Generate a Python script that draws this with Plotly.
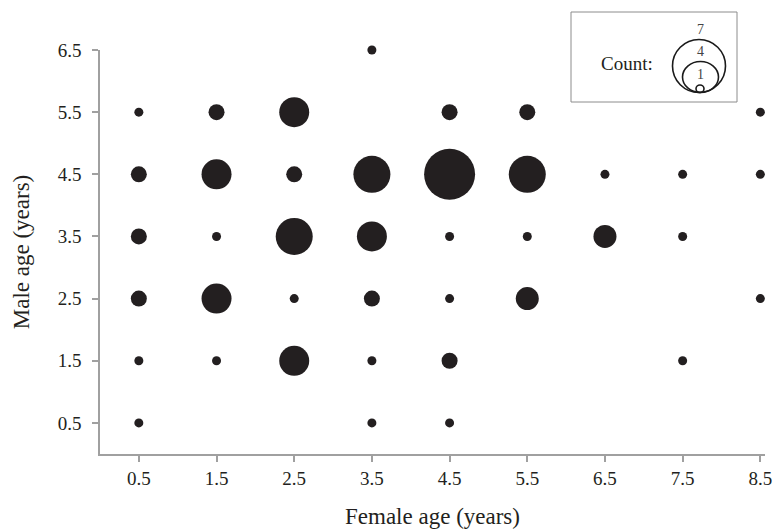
import plotly.graph_objects as go

# Data: female age (x), male age (y), count of pairs
female_age = [3.5,
              0.5, 1.5, 2.5, 4.5, 5.5, 8.5,
              0.5, 1.5, 2.5, 3.5, 4.5, 5.5, 6.5, 7.5, 8.5,
              0.5, 1.5, 2.5, 3.5, 4.5, 5.5, 6.5, 7.5,
              0.5, 1.5, 2.5, 3.5, 4.5, 5.5, 8.5,
              0.5, 1.5, 2.5, 3.5, 4.5, 7.5,
              0.5, 3.5, 4.5]
male_age = [6.5,
            5.5, 5.5, 5.5, 5.5, 5.5, 5.5,
            4.5, 4.5, 4.5, 4.5, 4.5, 4.5, 4.5, 4.5, 4.5,
            3.5, 3.5, 3.5, 3.5, 3.5, 3.5, 3.5, 3.5,
            2.5, 2.5, 2.5, 2.5, 2.5, 2.5, 2.5,
            1.5, 1.5, 1.5, 1.5, 1.5, 1.5,
            0.5, 0.5, 0.5]
count = [1,
         1, 2, 4, 2, 2, 1,
         2, 4, 2, 5, 7, 5, 1, 1, 1,
         2, 1, 5, 4, 1, 1, 3, 1,
         2, 4, 1, 2, 1, 3, 1,
         1, 1, 4, 1, 2, 1,
         1, 1, 1]

tick_vals = [0.5, 1.5, 2.5, 3.5, 4.5, 5.5, 6.5, 7.5, 8.5]
y_tick_vals = [0.5, 1.5, 2.5, 3.5, 4.5, 5.5, 6.5]
legend_counts = [1, 4, 7]

FONT = "Liberation Serif"
DOT = "#231f20"
AXIS = "#a0a0a0"
TXT = "#231f20"


def diam(n):
    return 7 * n + 2


fig = go.Figure()
fig.add_trace(go.Scatter(
    x=female_age, y=male_age, mode="markers",
    marker=dict(size=[diam(c) for c in count], color=DOT, opacity=1, line=dict(width=0)),
    cliponaxis=False, hoverinfo="x+y+text", text=[str(c) for c in count],
    showlegend=False,
))

L, R, T, B = 100, 15, 50, 77
W, H = 780, 531
pw, ph = W - L - R, H - T - B


def px(x):
    return (x - L) / pw


def py(y):
    return (H - B - y) / ph


shapes = [dict(type="rect", xref="paper", yref="paper",
               x0=px(571), x1=px(737), y0=py(102), y1=py(12),
               line=dict(color="#8c8c8c", width=1), fillcolor="white")]
# legend circles (pixel extents as drawn in the key)
leg_boxes = {1: (696, 704, 85, 92.5), 4: (682.5, 718.5, 61.5, 92.5), 7: (672.5, 725.5, 39.5, 92.5)}
annotations = []
for c in legend_counts:
    x0, x1, y0, y1 = leg_boxes[c]
    shapes.append(dict(type="circle", xref="paper", yref="paper",
                       x0=px(x0), x1=px(x1), y0=py(y1), y1=py(y0),
                       line=dict(color="#1a1a1a", width=1.6)))
    annotations.append(dict(xref="paper", yref="paper", x=px(700), y=py(y0 - 1),
                            text=str(c), showarrow=False, xanchor="center", yanchor="bottom",
                            font=dict(family=FONT, size=14, color="#444444")))
annotations.append(dict(xref="paper", yref="paper", x=px(627), y=py(63),
                        text="Count:", showarrow=False, xanchor="center", yanchor="middle",
                        font=dict(family=FONT, size=19, color=TXT)))

fig.update_layout(
    width=W, height=H,
    margin=dict(l=L, r=R, t=T, b=B),
    paper_bgcolor="white", plot_bgcolor="white",
    font=dict(family=FONT, size=19, color=TXT),
    shapes=shapes, annotations=annotations,
    xaxis=dict(range=[0, 8.56], tickvals=tick_vals, ticktext=[str(v) for v in tick_vals],
               automargin=False,
               showgrid=False, zeroline=False, showline=True, linecolor=AXIS, linewidth=1.5,
               ticks="outside", ticklen=6, tickcolor=AXIS, tickwidth=1.5,
               tickfont=dict(family=FONT, size=19, color=TXT),
               title=dict(text="Female age (years)", font=dict(family=FONT, size=23, color=TXT),
                          standoff=20)),
    yaxis=dict(range=[0, 6.5], tickvals=y_tick_vals, ticktext=[str(v) for v in y_tick_vals],
               automargin=False,
               showgrid=False, zeroline=False, showline=True, linecolor=AXIS, linewidth=1.5,
               ticks="outside", ticklen=6, tickcolor=AXIS, tickwidth=1.5,
               ticklabelstandoff=7,
               tickfont=dict(family=FONT, size=19, color=TXT),
               title=dict(text="Male age (years)", font=dict(family=FONT, size=23, color=TXT),
                          standoff=22)),
)

fig.write_html("out.html")
